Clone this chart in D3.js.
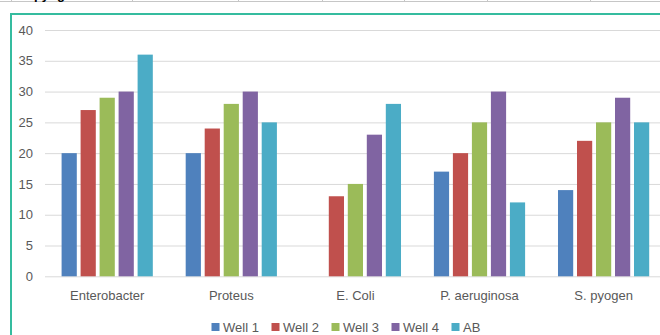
<!DOCTYPE html>
<html>
<head>
<meta charset="utf-8">
<script src="https://cdn.jsdelivr.net/npm/d3@7/dist/d3.min.js"></script>
<style>
  html, body { margin: 0; padding: 0; background: #ffffff; overflow: hidden; }
  svg { display: block; }
  text { font-family: "Liberation Sans", Arial, sans-serif; }
</style>
</head>
<body>
<svg id="chart" width="660" height="335"></svg>
<script>
// Inhibition zone data per organism and well
const categories = ["Enterobacter", "Proteus", "E. Coli", "P. aeruginosa", "S. pyogen"];
const seriesNames = ["Well 1", "Well 2", "Well 3", "Well 4", "AB"];
const well1 = [20, 20, null, 17, 14];
const well2 = [27, 24, 13, 20, 22];
const well3 = [29, 28, 15, 25, 25];
const well4 = [30, 30, 23, 30, 29];
const ab    = [36, 25, 28, 12, 25];
const yTicks = [0, 5, 10, 15, 20, 25, 30, 35, 40];
const seriesColors = ["#4f81bd", "#c0504d", "#9bbb59", "#8064a2", "#4bacc6"];

const seriesValues = [well1, well2, well3, well4, ab];
const rows = [];
categories.forEach((c, i) => {
  seriesNames.forEach((s, j) => {
    const v = seriesValues[j][i];
    if (v !== null) rows.push({ category: c, series: s, value: v });
  });
});

const svg = d3.select("#chart");

// Spreadsheet cells peeking above the chart object
const sheet = svg.append("g");
sheet.append("line")
  .attr("x1", 0).attr("x2", 660).attr("y1", 1.5).attr("y2", 1.5)
  .attr("stroke", "#c6c6c6").attr("stroke-width", 1);
[11, 132, 238, 322, 404, 487, 590].forEach(x => {
  sheet.append("line")
    .attr("x1", x + 0.5).attr("x2", x + 0.5).attr("y1", 0).attr("y2", 2)
    .attr("stroke", "#c6c6c6");
});
sheet.append("text")
  .attr("x", 18).attr("y", -1)
  .attr("font-size", 13).attr("font-weight", "bold").attr("fill", "#000")
  .text("S. pyogen");

// Chart object frame (selected)
svg.append("rect")
  .attr("x", 11).attr("y", 14)
  .attr("width", 700).attr("height", 400)
  .attr("fill", "#ffffff")
  .attr("stroke", "#35bc9f").attr("stroke-width", 2);

const x0 = d3.scaleBand()
  .domain(categories)
  .range([45.15, 665.65])
  .paddingInner(0.265)
  .paddingOuter(0.1325);

const x1 = d3.scaleBand()
  .domain(seriesNames)
  .range([0, x0.bandwidth()])
  .paddingInner(0.2);

const y = d3.scaleLinear().domain([0, 40]).range([276.3, 30]);

const color = d3.scaleOrdinal().domain(seriesNames).range(seriesColors);

// Gridlines and value labels
const yAxis = d3.axisLeft(y).tickValues(yTicks).tickSize(-(700 - 45)).tickPadding(12);
const gy = svg.append("g").attr("transform", "translate(45,0)").call(yAxis);
gy.select(".domain").remove();
gy.selectAll(".tick line").attr("stroke", "#d9d9d9").attr("stroke-width", 1);
gy.selectAll(".tick text")
  .attr("font-size", 13).attr("fill", "#595959")
  .attr("font-family", "Liberation Sans, Arial, sans-serif");

// Bars
svg.append("g").selectAll("rect")
  .data(rows)
  .join("rect")
  .attr("x", d => x0(d.category) + x1(d.series))
  .attr("y", d => y(d.value))
  .attr("width", x1.bandwidth())
  .attr("height", d => y(0) - y(d.value))
  .attr("fill", d => color(d.series));

// Category axis
const xAxis = d3.axisBottom(x0).tickSize(0).tickPadding(14);
const gx = svg.append("g").attr("transform", `translate(0,${y(0)})`).call(xAxis);
gx.select(".domain").remove();
gx.selectAll(".tick text")
  .attr("font-size", 13).attr("fill", "#595959")
  .attr("font-family", "Liberation Sans, Arial, sans-serif");

// Legend
const legendX = d3.scalePoint().domain(seriesNames).range([211.5, 451.5]);
const legend = svg.append("g").selectAll("g")
  .data(seriesNames)
  .join("g")
  .attr("transform", d => `translate(${legendX(d)},327)`);
legend.append("rect")
  .attr("x", 0).attr("y", -4).attr("width", 8).attr("height", 8)
  .attr("fill", d => color(d));
legend.append("text")
  .attr("x", 11.5).attr("y", 0).attr("dy", "0.35em")
  .attr("font-size", 13).attr("fill", "#595959")
  .text(d => d);
</script>
</body>
</html>
